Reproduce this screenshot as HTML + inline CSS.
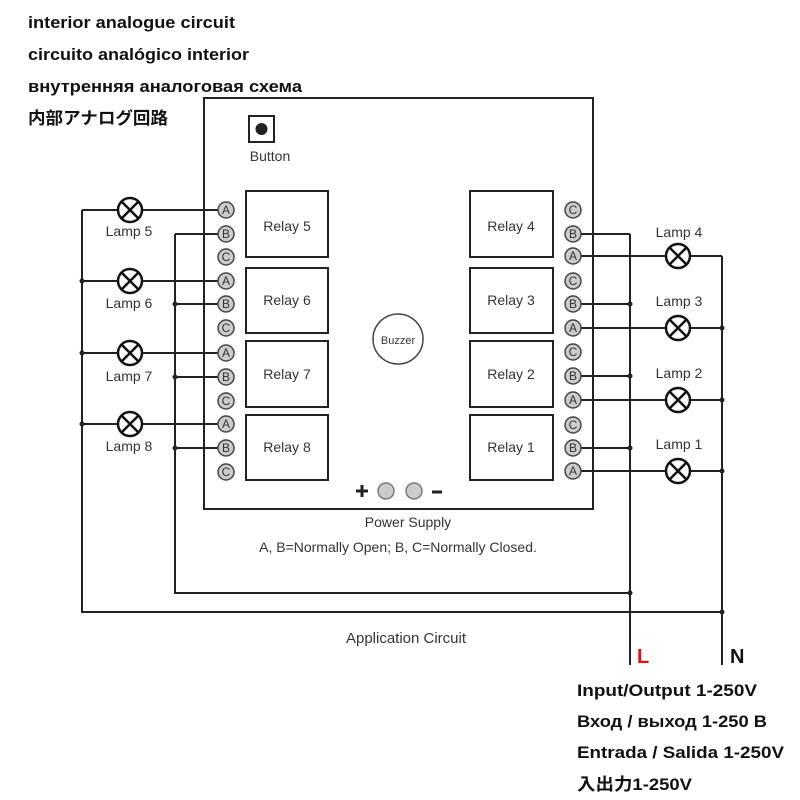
<!DOCTYPE html>
<html><head><meta charset="utf-8"><style>
html,body{margin:0;padding:0;background:#fff;}
svg{display:block;}
.h{font-family:"Liberation Sans","Noto Sans CJK JP",sans-serif;font-weight:bold;font-size:17px;fill:#111;}
.l{font-family:"Liberation Sans",sans-serif;font-size:14px;fill:#333;}
.t{font-family:"Liberation Sans",sans-serif;font-size:11px;fill:#333;text-anchor:middle;}
</style></head><body>
<svg width="800" height="800" viewBox="0 0 800 800" xmlns="http://www.w3.org/2000/svg">
<defs>
<g id="lp"><circle cx="0" cy="0" r="12"/><path d="M-8.5 -8.5L8.5 8.5M8.5 -8.5L-8.5 8.5"/></g>
</defs>
<g class="h">
<text x="28" y="28" textLength="207" lengthAdjust="spacingAndGlyphs">interior analogue circuit</text>
<text x="28" y="60" textLength="221" lengthAdjust="spacingAndGlyphs">circuito analógico interior</text>
<text x="28" y="92" textLength="274" lengthAdjust="spacingAndGlyphs">внутренняя аналоговая схема</text>
<text x="28" y="124" textLength="140" lengthAdjust="spacingAndGlyphs">内部アナログ回路</text>
<text x="577" y="696" textLength="180" lengthAdjust="spacingAndGlyphs">Input/Output 1-250V</text>
<text x="577" y="727" textLength="190" lengthAdjust="spacingAndGlyphs">Вход / выход 1-250 В</text>
<text x="577" y="758" textLength="207" lengthAdjust="spacingAndGlyphs">Entrada / Salida 1-250V</text>
<text x="577" y="790" textLength="115" lengthAdjust="spacingAndGlyphs">入出力1-250V</text>
</g>
<g fill="none" stroke="#222" stroke-width="2">
<rect x="204" y="98" width="389" height="411"/>
<rect x="249" y="116" width="25" height="26"/>
<rect x="246" y="191" width="82" height="66"/>
<rect x="246" y="268" width="82" height="65"/>
<rect x="246" y="341" width="82" height="66"/>
<rect x="246" y="415" width="82" height="65"/>
<rect x="470" y="191" width="83" height="66"/>
<rect x="470" y="268" width="83" height="65"/>
<rect x="470" y="341" width="83" height="66"/>
<rect x="470" y="415" width="83" height="65"/>
<path d="M82 210V612H722 M175 234V593H630 M630 234V665 M722 256V665"/>
<path d="M82 210H118 M142 210H218 M82 281H118 M142 281H218 M82 353H118 M142 353H218 M82 424H118 M142 424H218"/>
<path d="M175 234H218 M175 304H218 M175 377H218 M175 448H218"/>
<path d="M581 234H630 M581 304H630 M581 376H630 M581 448H630"/>
<path d="M581 256H666 M690 256H722 M581 328H666 M690 328H722 M581 400H666 M690 400H722 M581 471H666 M690 471H722"/>
</g>
<g fill="#222">
<circle cx="261.5" cy="129" r="6"/>
<circle cx="82" cy="281" r="2.5"/><circle cx="82" cy="353" r="2.5"/><circle cx="82" cy="424" r="2.5"/>
<circle cx="175" cy="304" r="2.5"/><circle cx="175" cy="377" r="2.5"/><circle cx="175" cy="448" r="2.5"/>
<circle cx="630" cy="304" r="2.5"/><circle cx="630" cy="376" r="2.5"/><circle cx="630" cy="448" r="2.5"/><circle cx="630" cy="593" r="2.5"/>
<circle cx="722" cy="328" r="2.5"/><circle cx="722" cy="400" r="2.5"/><circle cx="722" cy="471" r="2.5"/><circle cx="722" cy="612" r="2.5"/>
</g>
<g fill="#fff" stroke="#111" stroke-width="2.5">
<use href="#lp" transform="translate(130,210)"/>
<use href="#lp" transform="translate(130,281)"/>
<use href="#lp" transform="translate(130,353)"/>
<use href="#lp" transform="translate(130,424)"/>
<use href="#lp" transform="translate(678,256)"/>
<use href="#lp" transform="translate(678,328)"/>
<use href="#lp" transform="translate(678,400)"/>
<use href="#lp" transform="translate(678,471)"/>
</g>
<g class="l" text-anchor="middle">
<text x="129" y="236">Lamp 5</text><text x="129" y="308">Lamp 6</text><text x="129" y="381">Lamp 7</text><text x="129" y="451">Lamp 8</text>
<text x="679" y="237">Lamp 4</text><text x="679" y="306">Lamp 3</text><text x="679" y="378">Lamp 2</text><text x="679" y="449">Lamp 1</text>
<text x="287" y="231">Relay 5</text><text x="287" y="305">Relay 6</text><text x="287" y="379">Relay 7</text><text x="287" y="452">Relay 8</text>
<text x="511" y="231">Relay 4</text><text x="511" y="305">Relay 3</text><text x="511" y="379">Relay 2</text><text x="511" y="452">Relay 1</text>
<text x="270" y="161">Button</text>
<text x="408" y="527">Power Supply</text>
<text x="398" y="552">A, B=Normally  Open; B, C=Normally  Closed.</text>
<text x="406" y="643" font-size="15">Application  Circuit</text>
</g>
<g font-family="Liberation Sans,sans-serif" font-size="12" text-anchor="middle" fill="#333">
<g fill="#ccc" stroke="#444" stroke-width="1.5">
<circle cx="226" cy="210" r="8"/><circle cx="226" cy="234" r="8"/><circle cx="226" cy="257" r="8"/>
<circle cx="226" cy="281" r="8"/><circle cx="226" cy="304" r="8"/><circle cx="226" cy="328" r="8"/>
<circle cx="226" cy="353" r="8"/><circle cx="226" cy="377" r="8"/><circle cx="226" cy="401" r="8"/>
<circle cx="226" cy="424" r="8"/><circle cx="226" cy="448" r="8"/><circle cx="226" cy="472" r="8"/>
<circle cx="573" cy="210" r="8"/><circle cx="573" cy="234" r="8"/><circle cx="573" cy="256" r="8"/>
<circle cx="573" cy="281" r="8"/><circle cx="573" cy="304" r="8"/><circle cx="573" cy="328" r="8"/>
<circle cx="573" cy="352" r="8"/><circle cx="573" cy="376" r="8"/><circle cx="573" cy="400" r="8"/>
<circle cx="573" cy="425" r="8"/><circle cx="573" cy="448" r="8"/><circle cx="573" cy="471" r="8"/>
</g>
<text x="226" y="214">A</text><text x="226" y="238">B</text><text x="226" y="261">C</text>
<text x="226" y="285">A</text><text x="226" y="308">B</text><text x="226" y="332">C</text>
<text x="226" y="357">A</text><text x="226" y="381">B</text><text x="226" y="405">C</text>
<text x="226" y="428">A</text><text x="226" y="452">B</text><text x="226" y="476">C</text>
<text x="573" y="214">C</text><text x="573" y="238">B</text><text x="573" y="260">A</text>
<text x="573" y="285">C</text><text x="573" y="308">B</text><text x="573" y="332">A</text>
<text x="573" y="356">C</text><text x="573" y="380">B</text><text x="573" y="404">A</text>
<text x="573" y="429">C</text><text x="573" y="452">B</text><text x="573" y="475">A</text>
</g>
<circle cx="398" cy="339" r="25" fill="#fff" stroke="#444" stroke-width="1.5"/>
<text x="398" y="344" class="t" font-size="12">Buzzer</text>
<g fill="#ccc" stroke="#777" stroke-width="1.5"><circle cx="386" cy="491" r="8"/><circle cx="414" cy="491" r="8"/></g>
<path d="M356 491H368M362 485V497M432 492H442" stroke="#222" stroke-width="3"/>
<text x="637" y="663" font-family="Liberation Sans,sans-serif" font-weight="bold" font-size="20" fill="#e01010">L</text>
<text x="730" y="663" font-family="Liberation Sans,sans-serif" font-weight="bold" font-size="20" fill="#111">N</text>
</svg>
</body></html>
